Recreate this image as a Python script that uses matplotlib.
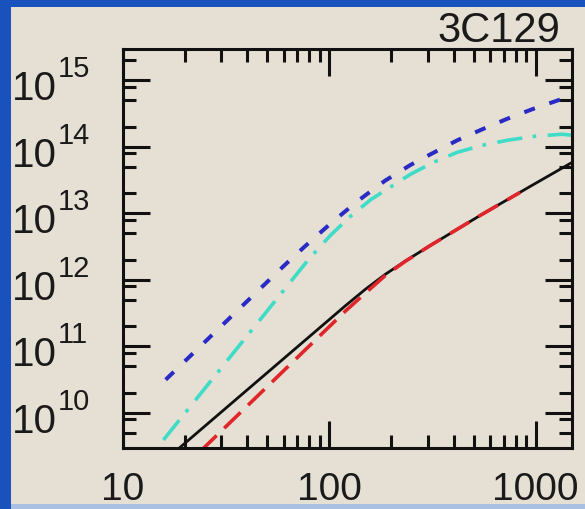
import matplotlib
matplotlib.use("Agg")
import matplotlib.pyplot as plt
from matplotlib.patches import Rectangle
from matplotlib.ticker import FixedLocator, FixedFormatter, NullFormatter

plt.rcParams['font.family'] = ['Liberation Sans', 'DejaVu Sans']

# ---- data -------------------------------------------------------------
title = '3C129'

x_ticks = [10, 100, 1000]
x_tick_labels = ['10', '100', '1000']
x_minor = [m * d for d in (10, 100, 1000) for m in range(2, 10)]

y_base = '10'
y_exponents = [10, 11, 12, 13, 14, 15]
y_ticks = [10.0 ** e for e in y_exponents]
y_minor = [m * 10.0 ** e for e in range(9, 16) for m in (2, 5, 8)]

# blue short-dashed curve
blue_x = [16.1, 60.5, 74.8, 101.1, 136.6, 186.7, 246.8, 318.9, 416.8, 550.8, 727.8,
          961.6, 1329, 1502]
blue_y = [3.14e10, 1.64e12, 3.02e12, 6.95e12, 1.51e13, 3.10e13, 5.30e13, 8.09e13,
          1.249e14, 1.828e14, 2.63e14, 3.66e14, 5.18e14, 5.74e14]

# cyan dash-dot curve
cyan_x = [15.7, 79.1, 101.1, 126.4, 159.3, 186.2, 246.8, 318.9, 416.8, 550.8, 727.8,
          995, 1343, 1502]
cyan_y = [3.9e9, 2.0e12, 4.63e12, 8.95e12, 1.614e13, 2.20e13, 3.84e13, 5.82e13,
          8.24e13, 1.05e14, 1.25e14, 1.44e14, 1.54e14, 1.49e14]

# black solid curve
black_x = [17.96, 119.5, 149.4, 186.7, 233.4, 308.4, 538.5, 940.6, 1502]
black_y = [2.63e9, 4.05e11, 7.17e11, 1.205e12, 1.91e12, 3.27e12, 9.27e12, 2.53e13, 5.82e13]

# red long-dashed curve
red_x = [23.7, 119.5, 149.4, 186.7, 233.4, 308.4, 538.5, 841]
red_y = [2.63e9, 3.37e11, 6.28e11, 1.157e12, 1.89e12, 3.27e12, 9.27e12, 2.06e13]

# ---- figure -----------------------------------------------------------
W, H = 585, 510
fig = plt.figure(figsize=(W / 100, H / 100), dpi=100)
fig.patch.set_facecolor('#1a52bd')
fig.patches.append(Rectangle((11 / W, 5 / H), 1 - 11 / W, 1 - 13 / H,
                             transform=fig.transFigure, facecolor='#e6e0d4',
                             edgecolor='none', zorder=-5))
fig.patches.append(Rectangle((11 / W, 0), 1 - 11 / W, 5 / H,
                             transform=fig.transFigure, facecolor='#a9c0e2',
                             edgecolor='none', zorder=-5))

ax = fig.add_axes([123 / W, 1 - 448.5 / H, 449 / W, 399 / H])
ax.set_zorder(2)
ax.set_facecolor('none')
ax.set_xscale('log')
ax.set_yscale('log')
ax.set_xlim(10, 1500)
ax.set_ylim(3e9, 3e15)

ax.plot(blue_x, blue_y, color='#2a2ac4', lw=2.9, linestyle=(0, (2.8, 3.8)))
ax.plot(cyan_x, cyan_y, color='#3fdcc8', lw=2.6, linestyle=(0, (7, 2.9, 1.0, 3.2)))
ax.plot(black_x, black_y, color='#111111', lw=2.0)
ax.plot(red_x, red_y, color='#e0262a', lw=2.6, linestyle=(0, (6.3, 2.9)))

for s in ax.spines.values():
    s.set_linewidth(2.2)
    s.set_color('#111111')

ax.xaxis.set_major_locator(FixedLocator(x_ticks))
ax.xaxis.set_major_formatter(FixedFormatter(x_tick_labels))
ax.xaxis.set_minor_locator(FixedLocator(x_minor))
ax.xaxis.set_minor_formatter(NullFormatter())
ax.yaxis.set_major_locator(FixedLocator(y_ticks))
ax.yaxis.set_major_formatter(NullFormatter())
ax.yaxis.set_minor_locator(FixedLocator(y_minor))
ax.yaxis.set_minor_formatter(NullFormatter())

ax.tick_params(which='both', direction='in', top=True, right=True,
               width=2.2, color='#111111', labelsize=28, labelcolor='#1a1a1a')
ax.tick_params(which='major', length=19.5)
ax.tick_params(which='minor', length=9.5)
ax.tick_params(axis='x', which='major', pad=17)

# power-of-ten labels on the y axis: base and raised exponent
for e, yv in zip(y_exponents, y_ticks):
    ax.annotate(y_base, xy=(0, yv), xycoords=('axes fraction', 'data'),
                xytext=(-66, -19), textcoords='offset pixels',
                ha='right', va='baseline', fontsize=29, color='#1a1a1a',
                annotation_clip=False)
    ax.annotate(str(e), xy=(0, yv), xycoords=('axes fraction', 'data'),
                xytext=(-65, 4), textcoords='offset pixels',
                ha='left', va='baseline', fontsize=21, color='#1a1a1a',
                annotation_clip=False)

fig.text(560 / W, 1 - 31 / H, title, ha='right', va='center',
         fontsize=30, color='#1a1a1a')

fig.savefig('out.png', dpi=100, facecolor=fig.get_facecolor())
